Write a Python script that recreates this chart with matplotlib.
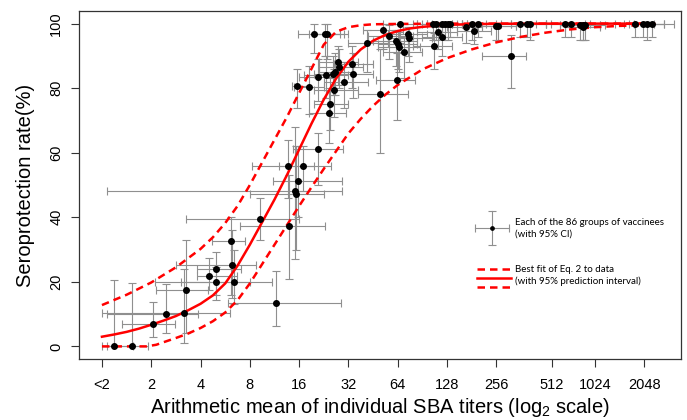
import numpy as np
import matplotlib
matplotlib.use("Agg")
import matplotlib.pyplot as plt

plt.rcParams['font.family'] = ['Liberation Sans', 'DejaVu Sans']
plt.rcParams['mathtext.fontset'] = 'custom'
plt.rcParams['mathtext.rm'] = 'Liberation Sans'

# groups of vaccinees: log2 of arithmetic mean titer (<2 -> 0), seroprotection (%)
log2_titer = [0.25, 0.61, 1.04, 1.30, 1.66, 1.70, 2.18, 2.32, 2.32, 2.62,
              2.64, 2.67, 3.21, 3.54, 3.92, 3.93, 3.80, 3.98, 3.78, 4.07,
              4.39, 4.62, 4.60, 3.95, 4.20, 4.39, 4.54, 4.69, 4.73, 4.78,
              4.81, 4.70, 4.90, 5.08, 5.10, 4.31, 4.53, 4.57, 5.37, 5.64,
              5.71, 5.83, 5.97, 6.00, 6.04, 6.13, 6.21, 6.23, 5.99, 6.02,
              6.72, 6.78, 6.82, 6.89, 6.74, 6.89, 6.96, 7.02, 7.06, 7.38,
              7.50, 7.55, 7.62, 8.00, 8.04, 8.30, 8.48, 8.63, 8.68, 9.40,
              9.52, 9.70, 9.75, 9.80, 9.75, 10.81, 10.98, 11.06, 11.15]
seroprot = [0.0, 0.0, 7.0, 9.9, 10.4, 17.5, 21.8, 23.9, 20.1, 32.7,
            25.3, 20.0, 39.4, 13.3, 48.2, 47.1, 37.3, 51.1, 55.9, 55.9,
            61.1, 75.0, 72.4, 80.8, 80.4, 83.4, 84.1, 84.3, 85.1, 88.0,
            86.6, 79.3, 81.8, 87.6, 84.5, 96.9, 96.9, 96.9, 94.0, 78.2,
            98.1, 96.2, 94.6, 93.6, 100.0, 91.1, 96.7, 95.5, 82.4, 92.8,
            99.8, 100.0, 97.4, 95.9, 93.1, 100.0, 99.8, 99.8, 100.0, 98.8,
            99.8, 97.7, 100.0, 99.2, 99.2, 90.1, 100.0, 100.0, 100.0, 100.0,
            100.0, 99.5, 99.5, 99.5, 98.9, 100.0, 100.0, 100.0, 100.0]
# 95% CI bounds
titer_lo = [0.00, 0.10, 0.40, 0.10, 0.01, 1.10, 1.92, 1.92, 1.60, 2.24,
            1.51, 1.08, 1.70, 2.55, 0.10, 3.00, 2.80, 3.47, 3.04, 3.60,
            3.88, 4.30, 4.20, 3.85, 3.90, 4.00, 4.10, 4.30, 4.40, 4.40,
            4.40, 4.30, 4.50, 4.70, 4.70, 3.98, 4.20, 4.30, 5.00, 5.20,
            5.30, 5.40, 5.50, 5.60, 5.70, 5.70, 5.80, 5.80, 5.55, 5.60,
            6.30, 6.40, 6.40, 6.50, 6.30, 6.50, 6.60, 6.60, 6.70, 7.00,
            7.10, 7.20, 7.30, 7.60, 7.70, 7.70, 8.10, 8.30, 8.30, 9.00,
            9.10, 9.30, 9.30, 9.40, 9.40, 10.40, 10.60, 10.70, 10.80]
titer_hi = [0.62, 0.94, 1.48, 1.95, 2.60, 2.15, 2.73, 2.83, 3.00, 2.91,
            3.12, 3.44, 4.00, 4.84, 4.86, 4.50, 4.52, 4.86, 4.30, 4.64,
            4.89, 5.00, 4.95, 4.20, 4.50, 4.80, 5.00, 5.10, 5.10, 5.20,
            5.30, 5.20, 5.40, 5.50, 5.50, 4.83, 4.90, 5.00, 5.80, 6.20,
            6.10, 6.30, 6.40, 6.40, 6.40, 6.50, 6.60, 6.70, 6.35, 6.45,
            7.10, 7.20, 7.20, 7.30, 7.10, 7.30, 7.30, 7.40, 7.40, 7.70,
            7.80, 7.90, 8.00, 8.40, 8.40, 8.60, 8.80, 9.00, 9.00, 9.80,
            9.90, 10.10, 10.10, 10.20, 10.10, 11.20, 11.40, 11.40, 11.60]
sero_lo = [0.0, 0.0, 3.0, 4.0, 1.2, 4.0, 17.4, 14.3, 15.9, 16.0,
           15.0, 13.0, 32.9, 6.3, 27.0, 30.0, 21.0, 40.0, 46.0, 48.0,
           50.0, 67.0, 63.0, 74.0, 72.0, 76.0, 77.0, 78.0, 78.0, 81.0,
           80.0, 71.0, 74.0, 80.0, 77.0, 91.0, 90.0, 89.0, 85.0, 60.0,
           92.0, 89.0, 87.0, 86.0, 94.0, 83.0, 90.0, 88.0, 70.0, 85.0,
           95.0, 95.0, 92.0, 90.0, 86.0, 96.0, 95.0, 95.0, 96.0, 94.0,
           95.0, 93.8, 96.0, 95.0, 95.0, 80.0, 96.0, 96.0, 95.0, 96.0,
           96.0, 95.0, 95.0, 95.0, 95.0, 96.0, 96.0, 95.0, 96.0]
sero_hi = [20.5, 19.5, 13.8, 19.2, 24.0, 32.9, 27.3, 29.3, 24.6, 40.0,
           36.0, 30.0, 46.1, 23.4, 68.0, 62.0, 53.0, 62.0, 64.0, 62.0,
           66.0, 83.0, 80.0, 86.0, 87.0, 89.0, 90.0, 90.0, 91.0, 93.0,
           92.0, 86.0, 88.0, 93.0, 91.0, 100.0, 100.0, 100.0, 98.0, 92.0,
           100.0, 99.5, 98.0, 98.0, 100.0, 96.0, 99.0, 99.0, 91.0, 97.5,
           100.0, 100.0, 99.5, 99.0, 97.0, 100.0, 100.0, 100.0, 100.0, 100.0,
           100.0, 99.5, 100.0, 100.0, 100.0, 96.4, 100.0, 100.0, 100.0, 100.0,
           100.0, 100.0, 100.0, 100.0, 99.8, 100.0, 100.0, 100.0, 100.0]

# fitted curve (Eq. 2) and 95% prediction interval
fit_u = [0, 0.25, 0.5, 0.75, 1.0, 1.25, 1.5, 1.75, 2.0, 2.25, 2.5, 2.75, 3.0,
         3.25, 3.5, 3.75, 4.0, 4.25, 4.5, 4.75, 5.0, 5.25, 5.5, 5.75, 6.0,
         6.25, 6.5, 7.0, 7.5, 8.0, 9.0, 10.0, 11.2]
fit_mid = [3.0, 3.7, 4.5, 5.5, 6.7, 8.0, 9.4, 11.2, 13.2, 15.8, 19.5, 25.0, 31.5,
           38.5, 45.5, 53.0, 61.0, 69.0, 76.5, 83.0, 88.2, 92.0, 94.7, 96.5, 97.7,
           98.5, 99.0, 99.6, 99.85, 99.95, 100, 100, 100]
upper_u = [0, 0.5, 1.0, 1.5, 2.0, 2.25, 2.5, 2.75, 3.0, 3.25, 3.5, 3.75, 4.0,
           4.25, 4.5, 4.75, 5.0, 5.25, 5.5, 6.0, 7.0, 11.2]
upper_pi = [12.8, 16.0, 19.8, 24.5, 30.2, 33.8, 38.2, 43.5, 50.0, 57.0, 64.0,
            71.0, 78.5, 86.0, 93.5, 97.5, 98.9, 99.5, 99.8, 99.9, 100, 100]
lower_u = [0, 0.9, 1.1, 1.25, 1.5, 1.75, 2.0, 2.25, 2.5, 2.75, 3.0, 3.25, 3.5,
           3.75, 4.0, 4.25, 4.5, 4.75, 5.0, 5.25, 5.5, 5.75, 6.0, 6.5, 7.0,
           7.5, 8.0, 8.5, 9.0, 9.5, 10.0, 10.5, 10.95]
lower_pi = [0, 0, 0.5, 1.3, 2.6, 4.0, 5.7, 7.8, 10.5, 14.3, 19.5, 25.5, 31.5,
            37.5, 43.5, 49.3, 55.0, 60.5, 66.0, 70.5, 74.5, 78.0, 81.0, 85.8,
            89.3, 92.0, 94.2, 95.9, 97.2, 98.2, 98.9, 99.3, 99.5]

tick_pos = [0, 1, 2, 3, 4, 5, 6, 7, 8, 9.13, 10, 11]
tick_lab = ['<2', '2', '4', '8', '16', '32', '64', '128', '256', '512', '1024', '2048']

u = np.array(log2_titer)
y = np.array(seroprot)
xerr = [u - np.array(titer_lo), np.array(titer_hi) - u]
yerr = [y - np.array(sero_lo), np.array(sero_hi) - y]

fig = plt.figure(figsize=(6.87, 4.2), dpi=100)
ax = fig.add_axes([0.1154, 0.1445, 0.8754, 0.83])

grey = '#8f8f8f'
red = '#ff0000'
ax.errorbar(u, y, xerr=xerr, yerr=yerr, fmt='none', ecolor=grey,
            elinewidth=0.8, capsize=2.6, capthick=0.8, zorder=1)
dash = (0, (3, 2))
ax.plot(fit_u, fit_mid, color=red, lw=1.8, zorder=2)
ax.plot(upper_u, upper_pi, color=red, lw=1.8, ls=dash, zorder=2)
ax.plot(lower_u, lower_pi, color=red, lw=1.8, ls=dash, zorder=2)
ax.plot(u, y, 'o', color='black', ms=4.0, zorder=3)

ax.set_xlim(-0.46, 11.74)
ax.set_ylim(-4, 104)
ax.set_xticks(tick_pos)
ax.set_xticklabels(tick_lab)
ax.set_yticks([0, 20, 40, 60, 80, 100])
ax.set_yticklabels(['0', '20', '40', '60', '80', '100'], rotation=90, va='center')
for s in ax.spines.values():
    s.set_color('#333333')
    s.set_linewidth(0.9)
ax.tick_params(axis='both', length=5.5, width=0.8, color='#333333', labelsize=10.5)
ax.tick_params(axis='x', pad=8)
ax.tick_params(axis='y', pad=6)

ax.set_xlabel('Arithmetic mean of individual SBA titers (log$\\mathregular{_2}$ scale)', fontsize=14.5)
ax.xaxis.set_label_coords(0.5, -0.105)
ax.set_ylabel('Seroprotection rate(%)', fontsize=14.5)
ax.yaxis.set_label_coords(-0.074, 0.5)

# legend, drawn by hand like the original
tr = ax.transAxes
cx, cy = 0.6867, 0.3772
ax.plot([cx - 0.0283, cx + 0.0283], [cy, cy], color=grey, lw=0.8, transform=tr)
ax.plot([cx, cx], [cy - 0.0488, cy + 0.0488], color=grey, lw=0.8, transform=tr)
ax.plot([cx - 0.0283, cx + 0.0283], [cy, cy], ls='none', marker='|', ms=5.2,
        mew=0.8, color=grey, transform=tr)
ax.plot([cx, cx], [cy - 0.0488, cy + 0.0488], ls='none', marker='_', ms=5.2,
        mew=0.8, color=grey, transform=tr)
ax.plot([cx], [cy], 'o', color='black', ms=2.4, transform=tr)
ax.text(0.7249, 0.3758, 'Each of the 86 groups of vaccinees\n(with 95% CI)',
        transform=tr, fontsize=7.0, family=['Lato', 'DejaVu Sans'],
        va='center', ha='left', linespacing=1.3)

lx = [0.6618, 0.7173]
ax.plot(lx, [0.2582, 0.2582], color=red, lw=1.8, ls=dash, transform=tr)
ax.plot(lx, [0.2341, 0.2341], color=red, lw=1.8, transform=tr)
ax.plot(lx, [0.2083, 0.2083], color=red, lw=1.8, ls=dash, transform=tr)
ax.text(0.7249, 0.2414, 'Best fit of Eq. 2 to data\n(with 95% prediction interval)',
        transform=tr, fontsize=7.0, family=['Lato', 'DejaVu Sans'],
        va='center', ha='left', linespacing=1.3)

fig.savefig('out.png', dpi=100)
